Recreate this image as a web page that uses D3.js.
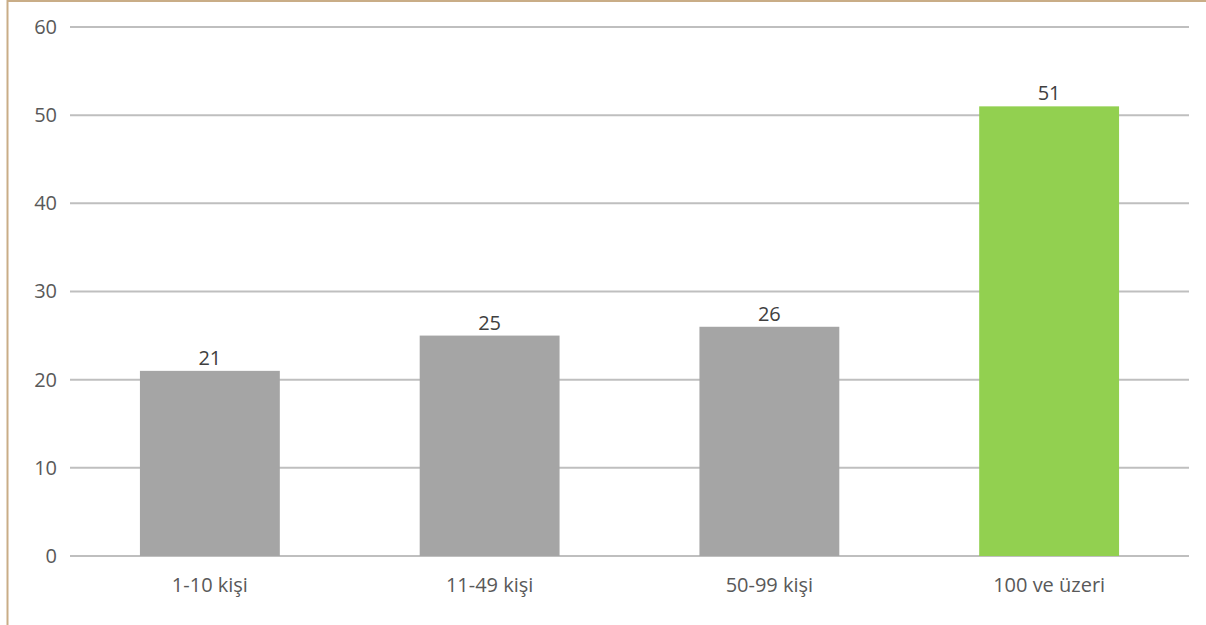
<!DOCTYPE html>
<html><head><meta charset="utf-8">
<script src="https://cdn.jsdelivr.net/npm/d3@7"></script>
<style>html,body{margin:0;padding:0;background:#fff;}</style>
</head><body>
<svg id="c" width="1206" height="625"></svg>
<script>
const categories = ["1-10 kişi", "11-49 kişi", "50-99 kişi", "100 ve üzeri"];
const values = [21, 25, 26, 51];
const barColors = ["#a5a5a5", "#a5a5a5", "#a5a5a5", "#92d050"];
const yTicks = [0, 10, 20, 30, 40, 50, 60];

const svg = d3.select("#c");
const font = "'Open Sans', 'Noto Sans', sans-serif";
// frame borders
svg.append("line").attr("x1", 7.5).attr("x2", 7.5).attr("y1", 0).attr("y2", 625).attr("stroke", "#c9ad87").attr("stroke-width", 2);
svg.append("line").attr("x1", 7).attr("x2", 1206).attr("y1", 1).attr("y2", 1).attr("stroke", "#c9ad87").attr("stroke-width", 2);

const x = d3.scaleBand().domain(categories).range([70, 1189]).paddingInner(0.5).paddingOuter(0.25);
const y = d3.scaleLinear().domain([0, 60]).range([556, 27]);

const grid = svg.append("g");
grid.selectAll("line").data(yTicks).join("line")
  .attr("x1", 70).attr("x2", 1189)
  .attr("y1", d => y(d)).attr("y2", d => y(d))
  .attr("stroke", "#bfbfbf").attr("stroke-width", 2);

const yAxis = d3.axisLeft(y).tickValues(yTicks).tickSize(0).tickPadding(13);
const ya = svg.append("g").attr("transform", "translate(70,0)").call(yAxis);
ya.select(".domain").remove();
ya.selectAll("text").attr("font-family", font).attr("font-size", 20).attr("fill", "#595959");

svg.append("g").selectAll("rect").data(values).join("rect")
  .attr("x", (d, i) => x(categories[i]))
  .attr("width", x.bandwidth())
  .attr("y", d => y(d))
  .attr("height", d => y(0) - y(d))
  .attr("fill", (d, i) => barColors[i]);

svg.append("g").selectAll("text").data(values).join("text")
  .attr("x", (d, i) => x(categories[i]) + x.bandwidth() / 2)
  .attr("y", d => y(d) - 6)
  .attr("text-anchor", "middle")
  .attr("font-family", font).attr("font-size", 20).attr("fill", "#404040")
  .text(d => d);

const xAxis = d3.axisBottom(x).tickSize(0).tickPadding(22);
const xa = svg.append("g").attr("transform", "translate(0,556)").call(xAxis);
xa.select(".domain").remove();
xa.selectAll("text").attr("font-family", font).attr("font-size", 20).attr("fill", "#595959");
</script>
</body></html>
